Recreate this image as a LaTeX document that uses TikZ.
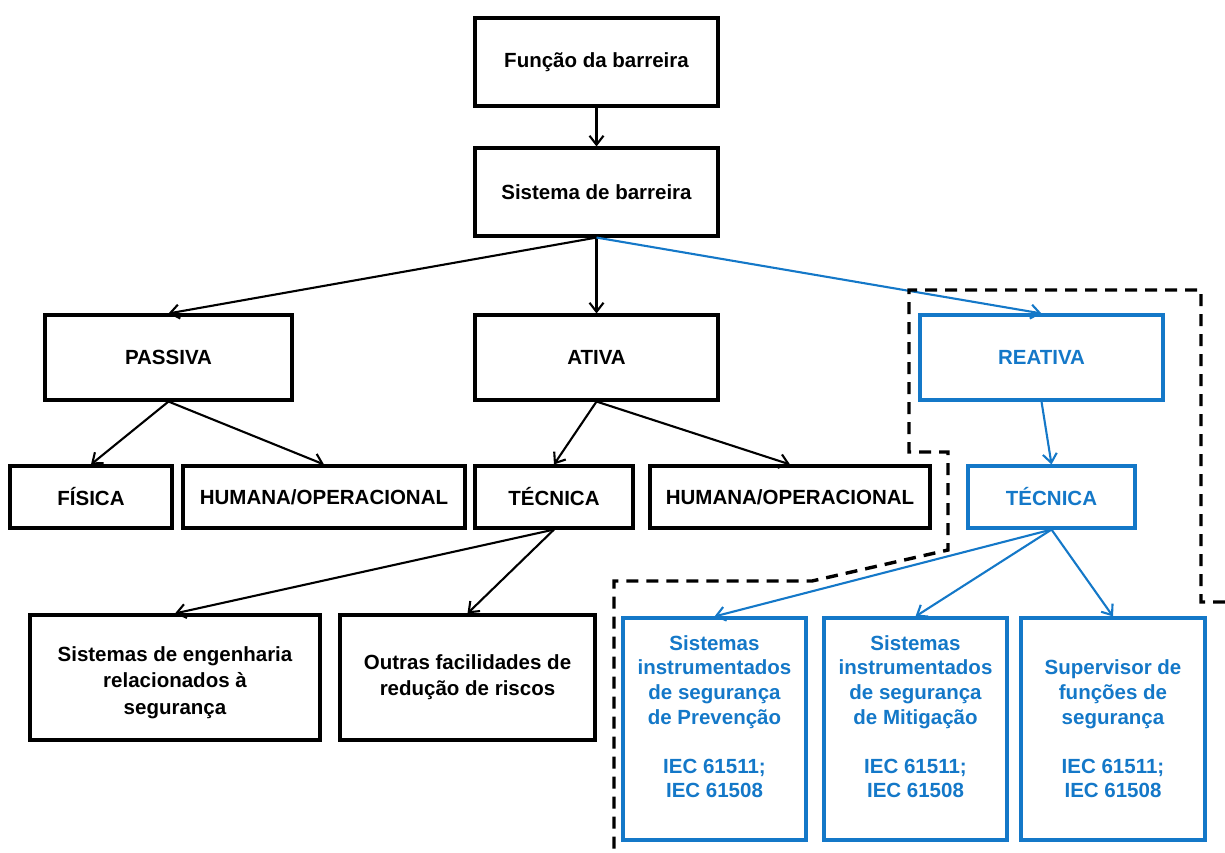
\documentclass[tikz,border=0pt]{standalone}
\usepackage{fontspec}
\setmainfont{Liberation Sans}
\usetikzlibrary{arrows.meta}
\definecolor{safeblue}{RGB}{20,120,200}
\begin{document}
\begin{tikzpicture}[x=1pt,y=-1pt,
  box/.style={draw=black,line width=3.1pt,inner sep=0pt,align=center,
    font=\fontsize{20.5}{24.6}\selectfont\bfseries},
  bluebox/.style={box,draw=safeblue,text=safeblue},
  link/.style={line width=2.1pt,-{Straight Barb[length=9pt,width=14pt,line width=2.1pt]}},
  bluelink/.style={link,draw=safeblue},
  fence/.style={line width=3.4pt,dash pattern=on 12pt off 8pt}]
\useasboundingbox (0,0) rectangle (1225,852);
% top of the hierarchy
\node[box,minimum width=243pt,minimum height=88pt] (func) at (596.5,62) {Função da barreira};
\node[box,minimum width=243pt,minimum height=88pt] (sis) at (596.5,192) {Sistema de barreira};
% barrier kinds
\node[box,minimum width=247pt,minimum height=85pt] (pas) at (168.5,357.5) {PASSIVA};
\node[box,minimum width=243pt,minimum height=85pt] (ati) at (596.5,357.5) {ATIVA};
\node[bluebox,minimum width=243pt,minimum height=85pt] (rea) at (1041.5,357.5) {REATIVA};
% second level
\node[box,minimum width=162pt,minimum height=62pt] (fis) at (91,497) {FÍSICA};
\node[box,minimum width=282pt,minimum height=62pt] (hum1) at (324,497) {HUMANA/OPERACIONAL};
\node[box,minimum width=158pt,minimum height=62pt] (tec) at (554,497) {TÉCNICA};
\node[box,minimum width=280pt,minimum height=62pt] (hum2) at (790,497) {HUMANA/OPERACIONAL};
\node[bluebox,minimum width=167pt,minimum height=62pt] (tec2) at (1051.5,497) {TÉCNICA};
% third level
\node[box,minimum width=290pt,minimum height=125pt,
  font=\fontsize{20.5}{26.5}\selectfont\bfseries] (eng) at (175,677.5)
  {\raisebox{-5pt}[\height][\depth]{\begin{tabular}{@{}c@{}}Sistemas de engenharia\\relacionados à\\segurança\end{tabular}}};
\node[box,minimum width=255pt,minimum height=125pt,
  font=\fontsize{20.5}{26}\selectfont\bfseries] (out) at (467.5,677.5)
  {Outras facilidades de\\redução de riscos};
\node[bluebox,minimum width=183pt,minimum height=222pt] (prev) at (714.5,729)
  {Sistemas\\instrumentados\\de segurança\\de Prevenção\\[24.6pt]IEC 61511;\\IEC 61508\\\mbox{}};
\node[bluebox,minimum width=183pt,minimum height=222pt] (miti) at (915.5,729)
  {Sistemas\\instrumentados\\de segurança\\de Mitigação\\[24.6pt]IEC 61511;\\IEC 61508\\\mbox{}};
\node[bluebox,minimum width=184pt,minimum height=222pt] (sup) at (1113,729)
  {Supervisor de\\funções de\\segurança\\[24.6pt]IEC 61511;\\IEC 61508};
% connectors
\draw[link] (func.south) -- (sis.north);
\draw[link] (sis.south) -- (pas.north);
\draw[link] (sis.south) -- (ati.north);
\draw[bluelink] (sis.south) -- (rea.north);
\draw[link] (pas.south) -- (fis.north);
\draw[link] (pas.south) -- (hum1.north);
\draw[link] (ati.south) -- (tec.north);
\draw[link] (ati.south) -- (hum2.north);
\draw[bluelink] (rea.south) -- (tec2.north);
\draw[link] (tec.south) -- (eng.north);
\draw[link] (tec.south) -- (out.north);
\draw[bluelink] (tec2.south) -- (prev.north);
\draw[bluelink] (tec2.south) -- (miti.north);
\draw[bluelink] (tec2.south) -- (sup.north);
% dashed boundary around the reactive branch
\coordinate (f1) at (909,452);
\coordinate (f2) at (909,290);
\coordinate (f3) at (1201,290);
\coordinate (f4) at (1201,602);
\coordinate (f5) at (1225,602);
\coordinate (g1) at (948,452);
\coordinate (g2) at (948,550);
\coordinate (g3) at (812,581);
\coordinate (g4) at (614,581);
\coordinate (g5) at (614,852);
\draw[fence] (f5) -- (f4) -- (f3) -- (f2) -- (f1) -- (g1) -- (g2) -- (g3) -- (g4) -- (g5);
\end{tikzpicture}
\end{document}
